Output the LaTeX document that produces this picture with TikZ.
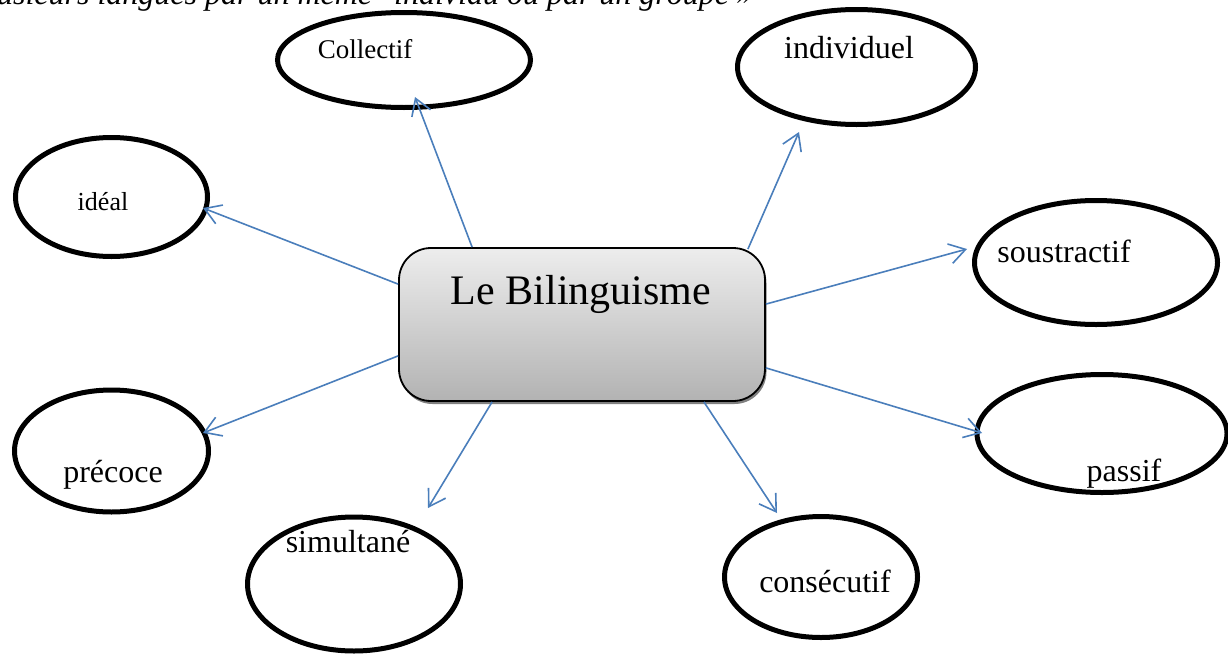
\documentclass[tikz,border=0pt]{standalone}
\usepackage{fontspec}
\setmainfont{Liberation Serif}
\usetikzlibrary{arrows.meta,shapes.geometric,shadows}
\definecolor{arrblue}{HTML}{4A7EBB}
\tikzset{
  bubble/.style={draw=black, line width=5pt, ellipse, inner sep=0pt},
  lbl/.style={anchor=base, inner sep=0pt, font=\fontsize{32}{38}\selectfont},
  arr/.style={draw=arrblue, line width=1.6pt, -{Straight Barb[length=16pt,width=20pt]}},
  centralbox/.style={draw=black, line width=1.8pt, rounded corners=32pt,
    top color=black!7, bottom color=black!30,
    drop shadow={shadow xshift=1.5pt, shadow yshift=-3pt, fill=black!50, opacity=1}}
}
\begin{document}
\begin{tikzpicture}[x=1pt,y=-1pt]
\useasboundingbox (0,0) rectangle (1228,653);
\clip (0,0) rectangle (1228,653);

% top cut-off quotation
\node[anchor=base west, inner sep=0pt, font=\itshape\fontsize{32}{38}\selectfont] (quote) at (-28,5)
  {plusieurs langues par un même\hspace{14pt} individu ou par un groupe »};

% central box
\node[centralbox, minimum width=366pt, minimum height=153pt] (box) at (582,324.5) {};
\node[lbl, font=\fontsize{42}{50}\selectfont] (boxT) at (581,304) {Le Bilinguisme};

% ellipses
\node[bubble, minimum width=253pt, minimum height=95pt]  (collectif) at (404,60) {};
\node[bubble, minimum width=238pt, minimum height=115pt] (individuel) at (856.5,67) {};
\node[bubble, minimum width=192pt, minimum height=119pt] (ideal) at (111.5,197) {};
\node[bubble, minimum width=243pt, minimum height=124pt] (soustractif) at (1096,262.5) {};
\node[bubble, minimum width=250pt, minimum height=118pt] (passif) at (1102,433.5) {};
\node[bubble, minimum width=194pt, minimum height=122pt] (precoce) at (111.5,451) {};
\node[bubble, minimum width=213pt, minimum height=134pt] (simultane) at (354,584) {};
\node[bubble, minimum width=193pt, minimum height=121pt] (consecutif) at (821,577) {};

% labels
\node[lbl, font=\fontsize{27}{32}\selectfont] (collectifT) at (365,58) {Collectif};
\node[lbl] (individuelT) at (849,58) {individuel};
\node[lbl, font=\fontsize{26}{31}\selectfont] (idealT) at (103,210) {idéal};
\node[lbl] (soustractifT) at (1064,262) {soustractif};
\node[lbl] (passifT) at (1124,481) {passif};
\node[lbl] (precoceT) at (113,482) {précoce};
\node[lbl] (simultaneT) at (348,552) {simultané};
\node[lbl] (consecutifT) at (825,592) {consécutif};

% arrow tips
\coordinate (t1) at (415,97);
\coordinate (t2) at (799,132);
\coordinate (t3) at (203,208);
\coordinate (t4) at (967,249);
\coordinate (t5) at (982,433);
\coordinate (t6) at (203,433);
\coordinate (t7) at (428,508);
\coordinate (t8) at (777,513);

% connectors
\draw[arr] ([xshift=74pt]box.north west) -- (t1);
\draw[arr] ([xshift=-18pt,yshift=-2pt]box.north east) -- (t2);
\draw[arr] ([yshift=-37pt]box.north west) -- (t3);
\draw[arr] ([yshift=-57pt]box.north east) -- (t4);
\draw[arr] ([yshift=34pt]box.south east) -- (t5);
\draw[arr] ([yshift=46pt]box.south west) -- (t6);
\draw[arr] ([xshift=94pt]box.south west) -- (t7);
\draw[arr] ([xshift=-62pt]box.south east) -- (t8);
\end{tikzpicture}
\end{document}
